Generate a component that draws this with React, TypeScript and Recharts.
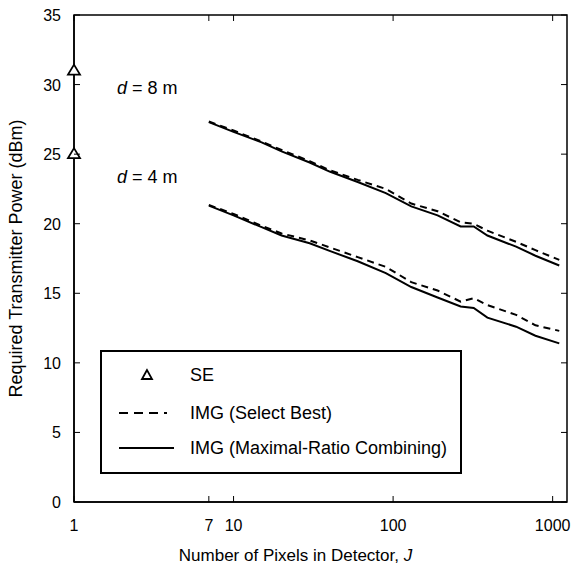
import {
  ComposedChart,
  Line,
  Scatter,
  XAxis,
  YAxis,
  ReferenceArea,
  Label,
} from 'recharts'

// number of pixels J
const pixels = [7, 10, 15, 20, 30, 40, 60, 90, 130, 190, 265, 320, 390, 590, 780, 1100]
// d = 8 m
const selectBest8 = [27.35, 26.7, 25.9, 25.3, 24.5, 23.85, 23.15, 22.5, 21.45, 20.9, 20.1, 20.0, 19.5, 18.7, 18.1, 17.4]
const mrc8 = [27.3, 26.6, 25.85, 25.2, 24.4, 23.75, 23.0, 22.2, 21.25, 20.6, 19.8, 19.8, 19.15, 18.35, 17.7, 17.0]
// d = 4 m
const selectBest4 = [21.35, 20.7, 19.85, 19.3, 18.8, 18.3, 17.6, 16.9, 15.8, 15.2, 14.4, 14.65, 14.15, 13.45, 12.7, 12.3]
const mrc4 = [21.3, 20.6, 19.75, 19.15, 18.6, 18.05, 17.3, 16.45, 15.45, 14.7, 14.05, 13.95, 13.25, 12.6, 11.95, 11.4]
// single element receiver
const seValues = [31, 25]

const xTicks = [1, 7, 10, 100, 1000]
const yTicks = [0, 5, 10, 15, 20, 25, 30, 35]

const data = pixels.map((j, i) => ({
  j,
  sb8: selectBest8[i],
  mrc8: mrc8[i],
  sb4: selectBest4[i],
  mrc4: mrc4[i],
}))
const seData = seValues.map((v) => ({ j: 1, se: v }))

const FONT = '"Liberation Sans", Arial, Helvetica, sans-serif'
const PLOT_RIGHT = 567
const PLOT_TOP = 15
const TICK = 6

function XTick(props: any) {
  const { x, y, payload } = props
  const axisY = y - 16
  return (
    <g>
      <line x1={x} x2={x} y1={axisY} y2={axisY - TICK} stroke="#000" />
      <line x1={x} x2={x} y1={PLOT_TOP} y2={PLOT_TOP + TICK} stroke="#000" />
      <text x={x} y={y} dy={13} textAnchor="middle" fontSize={16} fontFamily={FONT} fill="#000">
        {payload.value}
      </text>
    </g>
  )
}

function YTick(props: any) {
  const { x, y, payload } = props
  const axisX = x + 13
  return (
    <g>
      <line x1={axisX} x2={axisX + TICK} y1={y} y2={y} stroke="#000" />
      <line x1={PLOT_RIGHT - TICK} x2={PLOT_RIGHT} y1={y} y2={y} stroke="#000" />
      <text x={x} y={y} dy={6} textAnchor="end" fontSize={16} fontFamily={FONT} fill="#000">
        {payload.value}
      </text>
    </g>
  )
}

function XTitle(props: any) {
  const { viewBox } = props
  const cx = viewBox.x + viewBox.width / 2 - 25
  const y = viewBox.y + viewBox.height - 11
  return (
    <text x={cx} y={y} textAnchor="middle" fontSize={17} fontFamily={FONT} fill="#000">
      Number of Pixels in Detector, <tspan fontStyle="italic">J</tspan>
    </text>
  )
}

function Triangle(props: any) {
  const { cx, cy } = props
  return (
    <polygon
      points={`${cx},${cy - 6} ${cx - 6},${cy + 4} ${cx + 6},${cy + 4}`}
      fill="#fff"
      stroke="#000"
      strokeWidth={1.8}
    />
  )
}

const textStyle = { position: 'absolute' as const, fontFamily: FONT, fontSize: 18, color: '#000', whiteSpace: 'nowrap' as const, lineHeight: '22px' }

export default function App() {
  return (
    <div style={{ position: 'absolute', left: 0, top: 0, width: 572, height: 572, background: '#fff' }}>
      <ComposedChart
        width={572}
        height={572}
        data={data}
        margin={{ top: 15, right: 5, bottom: 0, left: 0 }}
      >
        <XAxis
          dataKey="j"
          type="number"
          scale="log"
          domain={[1, 1230]}
          ticks={xTicks}
          interval={0}
          height={70}
          tickSize={0}
          tickMargin={16}
          tick={<XTick />}
          axisLine={{ stroke: '#000', strokeWidth: 1.5 }}
        >
          <Label content={<XTitle />} position="insideBottom" />
        </XAxis>
        <YAxis
          type="number"
          domain={[0, 35]}
          ticks={yTicks}
          interval={0}
          width={74}
          tickSize={0}
          tickMargin={13}
          tick={<YTick />}
          axisLine={{ stroke: '#000', strokeWidth: 1.5 }}
        >
          <Label
            value="Required Transmitter Power (dBm)"
            angle={-90}
            position="insideLeft"
            offset={16}
            style={{ fontFamily: FONT, fontSize: 18, fill: '#000', textAnchor: 'middle' }}
          />
        </YAxis>
        <ReferenceArea
          x1={1}
          x2={1230}
          y1={0}
          y2={35}
          fill="none"
          fillOpacity={0}
          stroke="#000"
          strokeWidth={1.5}
          ifOverflow="visible"
        />
        <Line dataKey="sb8" stroke="#000" strokeWidth={2} strokeDasharray="7 5" dot={false} isAnimationActive={false} />
        <Line dataKey="mrc8" stroke="#000" strokeWidth={2} dot={false} isAnimationActive={false} />
        <Line dataKey="sb4" stroke="#000" strokeWidth={2} strokeDasharray="7 5" dot={false} isAnimationActive={false} />
        <Line dataKey="mrc4" stroke="#000" strokeWidth={2} dot={false} isAnimationActive={false} />
        <Scatter data={seData} dataKey="se" shape={<Triangle />} isAnimationActive={false} />
      </ComposedChart>

      <div style={{ ...textStyle, left: 117, top: 77 }}>
        <i>d</i> = 8 m
      </div>
      <div style={{ ...textStyle, left: 117, top: 166 }}>
        <i>d</i> = 4 m
      </div>

      <div
        style={{
          position: 'absolute',
          left: 100,
          top: 350,
          width: 358,
          height: 120,
          border: '2px solid #000',
          background: '#fff',
        }}
      >
        <svg width={80} height={120} style={{ position: 'absolute', left: 0, top: 0 }}>
          <polygon points="45,18 40,27 50,27" fill="#fff" stroke="#000" strokeWidth={1.8} />
          <line x1={17} x2={65} y1={61} y2={61} stroke="#000" strokeWidth={1.8} strokeDasharray="9 6" />
          <line x1={17} x2={72} y1={96} y2={96} stroke="#000" strokeWidth={1.8} />
        </svg>
        <div style={{ ...textStyle, left: 88, top: 12 }}>SE</div>
        <div style={{ ...textStyle, left: 88, top: 50 }}>IMG (Select Best)</div>
        <div style={{ ...textStyle, left: 88, top: 85 }}>IMG (Maximal-Ratio Combining)</div>
      </div>
    </div>
  )
}
